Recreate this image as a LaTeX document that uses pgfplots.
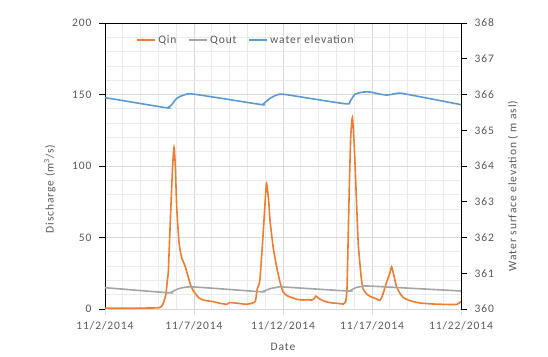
\documentclass[border=0pt]{standalone}
\usepackage{fontspec}
\setmainfont{Carlito}[LetterSpace=8]
\usepackage{pgfplots}
\pgfplotsset{compat=1.18}
\definecolor{cQin}{HTML}{ED7D31}
\definecolor{cQout}{HTML}{A5A5A5}
\definecolor{cWE}{HTML}{5B9BD5}
\definecolor{txt}{HTML}{595959}
\definecolor{gmaj}{HTML}{D9D9D9}
\definecolor{gmin}{HTML}{EBEBEB}
\newcommand{\tfont}{\fontsize{11.5}{13}\selectfont}
\begin{document}
\begin{tikzpicture}
\begin{axis}[
  name=ax, at={(0pt,0pt)}, anchor=south west,
  scale only axis, width=356pt, height=286pt,
  xmin=0, xmax=20, ymin=0, ymax=200,
  axis x line*=bottom, axis y line*=left,
  x axis line style={draw=gmaj, line width=0.8pt},
  y axis line style={draw=black, line width=0.8pt},
  xtick={0,5,10,15,20},
  xticklabels={11/2/2014,11/7/2014,11/12/2014,11/17/2014,11/22/2014},
  minor x tick num=4,
  ytick={0,50,100,150,200},
  minor y tick num=4,
  grid=both,
  major grid style={draw=gmaj, line width=0.8pt},
  minor grid style={draw=gmin, line width=0.7pt},
  tick align=outside,
  major tick length=6pt, minor tick length=0pt,
  x tick style={draw=gmaj, line width=0.8pt},
  y tick style={draw=black, line width=0.8pt},
  ticklabel style={font=\tfont, text=txt},
  /pgf/number format/assume math mode=true,
  xticklabel style={yshift=-3pt},
  yticklabel style={xshift=-4pt},
  xlabel={Date}, ylabel={Discharge (m\textsuperscript{3}/s)},
  label style={font=\tfont, text=txt},
  xlabel style={at={(axis description cs:0.5,-0.132)}, anchor=center},
  ylabel style={at={(axis description cs:-0.155,0.42)}, anchor=center},
  legend columns=3,
  legend style={draw=none, fill=none, font=\tfont, text=txt,
    at={(axis description cs:0.08,0.94)}, anchor=west,
    /tikz/every even column/.append style={column sep=10pt}},
  legend image code/.code={\draw[#1] (0pt,0pt) -- (18pt,0pt);},
  clip=false,
]
\addplot[cQin, line width=1.6pt, smooth, tension=0.35] coordinates {
(0,0.5) (1,0.5) (2,0.6) (2.5,0.7) (3.0,0.8) (3.15,1.5) (3.28,4) (3.43,11)
(3.5,20) (3.56,27) (3.7,71) (3.8,100) (3.88,113) (3.95,100) (4.03,71)
(4.15,48) (4.22,41) (4.33,35) (4.5,30) (4.8,17) (5.0,12) (5.3,7.5)
(5.6,6) (5.9,5.5) (6.07,5.2) (6.46,4) (6.85,3.3) (7.0,4.5) (7.3,4.2)
(7.6,3.8) (7.95,3.3) (8.3,4.2) (8.45,5.5) (8.55,14) (8.7,20) (8.87,50)
(9.05,85) (9.1,86.5) (9.2,75) (9.27,62) (9.45,43) (9.65,29) (9.83,19)
(10.0,12) (10.2,9.5) (10.4,8.4) (10.77,6.8) (11.1,6.3) (11.4,6.5)
(11.6,6.2) (11.75,7.2) (11.85,9) (12.0,7.5) (12.25,5.8) (12.6,4.5)
(13.0,4) (13.4,3.5) (13.52,5) (13.6,16) (13.7,72) (13.8,119) (13.9,134)
(14.0,115) (14.14,72) (14.23,45) (14.4,21.5) (14.5,14) (14.7,10.5)
(14.9,8.8) (15.26,7) (15.45,6) (15.6,9.8) (15.8,18) (16.0,25) (16.1,29.5)
(16.2,25) (16.38,15.6) (16.57,11) (16.76,8) (17.13,5.8) (17.7,4.2)
(18.4,3.5) (19.2,3.2) (19.75,3.2) (19.94,4.5) (20,5.5)
};
\addlegendentry{Qin}
\addplot[cQout, line width=1.6pt, smooth, tension=0.4] coordinates {
(0,14.9) (3.5,11.4) (3.7,11.6) (4.0,13.5) (4.3,14.7) (5.0,15.4)
(8.7,12.1) (8.9,12.4) (9.3,14.3) (9.7,15.2) (10.0,15.4) (13.6,12.6)
(13.8,13) (14.1,15) (14.5,15.8) (14.9,16) (20,12.6)
};
\addlegendentry{Qout}
\addlegendimage{cWE, line width=1.6pt}
\addlegendentry{water elevation}
\end{axis}
\begin{axis}[
  at={(0pt,0pt)}, anchor=south west,
  scale only axis, width=356pt, height=286pt,
  xmin=0, xmax=20, ymin=360, ymax=368,
  axis x line*=top, xtick=\empty,
  axis y line*=right,
  x axis line style={draw=black, line width=0.8pt},
  y axis line style={draw=black, line width=0.8pt},
  ytick={360,361,362,363,364,365,366,367,368},
  tick align=outside, major tick length=6pt,
  y tick style={draw=black, line width=0.8pt},
  ticklabel style={font=\tfont, text=txt},
  /pgf/number format/assume math mode=true,
  yticklabel style={xshift=4pt},
  ylabel={Water surface elevation ( m asl)},
  label style={font=\tfont, text=txt},
  ylabel style={at={(axis description cs:1.146,0.43)}, anchor=center, rotate=0},
]
\addplot[cWE, line width=1.6pt, smooth, tension=0.4] coordinates {
(0,365.912) (3.4,365.632) (3.55,365.64) (3.74,365.708) (4.03,365.892)
(4.4,365.98) (5.0,366.008) (8.7,365.724) (8.9,365.74) (9.27,365.892)
(9.64,365.984) (10.0,366.008) (11.7,365.876) (13.58,365.736) (13.76,365.8)
(14.04,366.004) (14.5,366.068) (14.9,366.068) (15.8,365.984) (16.5,366.04)
(16.95,366.008) (20,365.716)
};
\end{axis}
\pgfresetboundingbox
\useasboundingbox ([xshift=-105pt,yshift=-48pt]ax.south west) rectangle ([xshift=87pt,yshift=23pt]ax.north east);
\end{tikzpicture}
\end{document}
